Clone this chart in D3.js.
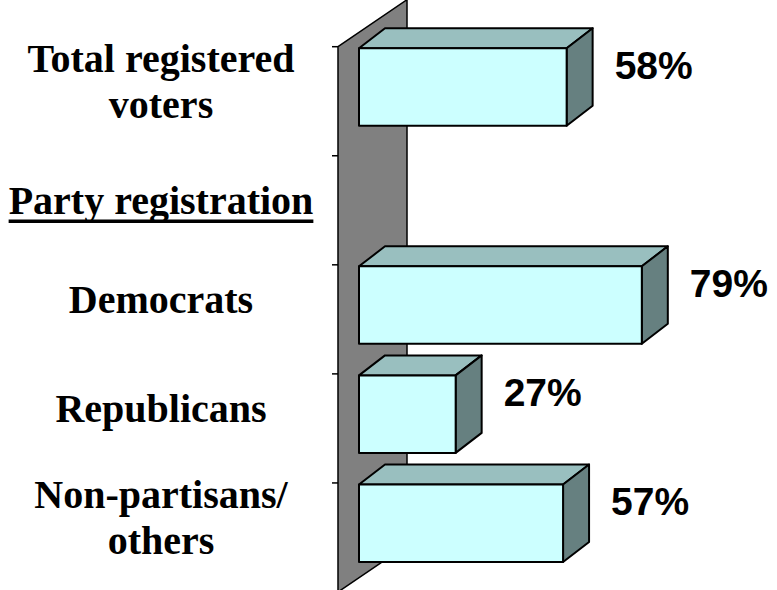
<!DOCTYPE html>
<html>
<head>
<meta charset="utf-8">
<script src="https://cdn.jsdelivr.net/npm/d3@7"></script>
<style>
  body { margin: 0; background: #fff; }
  svg { display: block; }
</style>
</head>
<body>
<div id="chart"></div>
<script>
// chart data
var categories = ['Total registered voters', 'Party registration', 'Democrats', 'Republicans', 'Non-partisans/ others'];
var categoryLines = [['Total registered', 'voters'], ['Party registration'], ['Democrats'], ['Republicans'], ['Non-partisans/', 'others']];
var values = [58, null, 79, 27, 57];
var valueLabels = ['58%', '', '79%', '27%', '57%'];

var width = 777, height = 590;
var depth = {x: 26, y: 20};   // 3d offset of the bars
var wallDepth = {x: 69, y: 47};

var svg = d3.select('#chart').append('svg')
    .attr('width', width)
    .attr('height', height);

var yScale = d3.scaleBand().domain(categories).range([46.7, 592]).paddingInner(0);
var xScale = d3.scaleLinear().domain([0, 100]).range([359, 717]);

// grey side wall
var wx = xScale(0) - 21,
    wTop = yScale.range()[0],
    wBot = yScale.range()[1];
svg.append('polygon')
    .attr('points', [[wx, wTop], [wx + wallDepth.x, wTop - wallDepth.y],
                     [wx + wallDepth.x, wBot - wallDepth.y], [wx, wBot]].join(' '))
    .attr('fill', '#808080')
    .attr('stroke', '#000')
    .attr('stroke-width', 1.5);

// ticks between categories
svg.selectAll('.tick')
    .data(categories)
  .enter().append('line')
    .attr('x1', wx - 6).attr('x2', wx)
    .attr('y1', function(d) { return yScale(d); })
    .attr('y2', function(d) { return yScale(d); })
    .attr('stroke', '#000')
    .attr('stroke-width', 1.5);

// bars
var bars = categories.map(function(c, i) { return {cat: c, value: values[i], label: valueLabels[i]}; })
    .filter(function(d) { return d.value != null; });

var g = svg.selectAll('.bar').data(bars).enter().append('g').attr('class', 'bar');

function face(d, which) {
  var x0 = xScale(0), x1 = xScale(d.value),
      y0 = yScale(d.cat) + 1.5, y1 = y0 + 77.5;
  if (which === 'top') return [[x0, y0], [x0 + depth.x, y0 - depth.y], [x1 + depth.x, y0 - depth.y], [x1, y0]];
  if (which === 'side') return [[x1, y0], [x1 + depth.x, y0 - depth.y], [x1 + depth.x, y1 - depth.y], [x1, y1]];
  return [[x0, y0], [x1, y0], [x1, y1], [x0, y1]];
}

[['top', '#99bfbf'], ['side', '#668080'], ['front', '#ccffff']].forEach(function(f) {
  g.append('polygon')
      .attr('points', function(d) { return face(d, f[0]).join(' '); })
      .attr('fill', f[1])
      .attr('stroke', '#000')
      .attr('stroke-width', 2)
      .attr('stroke-linejoin', 'round');
});

g.append('text')
    .attr('x', function(d) { return xScale(d.value) + depth.x + 22; })
    .attr('y', function(d) { return yScale(d.cat) + 32; })
    .attr('font-family', '"Liberation Sans", Arial, sans-serif')
    .attr('font-weight', 'bold')
    .attr('font-size', 39)
    .text(function(d) { return d.label; });

// category labels
var lineH = 46;
var labels = svg.selectAll('.cat')
    .data(categories)
  .enter().append('text')
    .attr('class', 'cat')
    .attr('text-anchor', 'middle')
    .attr('font-family', '"Liberation Serif", "Times New Roman", serif')
    .attr('font-weight', 'bold')
    .attr('font-size', 40);

labels.each(function(c, i) {
  var lines = categoryLines[i];
  var mid = yScale(c) + yScale.bandwidth() / 2 - 6.5 + (values[i] == null ? 10 : 0);
  var t = d3.select(this);
  lines.forEach(function(l, j) {
    t.append('tspan')
        .attr('x', 161)
        .attr('y', mid + (j - (lines.length - 1) / 2) * lineH)
        .text(l);
  });
  // the group header is underlined
  if (values[i] == null) {
    var w = this.getComputedTextLength();
    svg.append('line')
        .attr('x1', 161 - w / 2).attr('x2', 161 + w / 2)
        .attr('y1', mid + 7.5).attr('y2', mid + 7.5)
        .attr('stroke', '#000')
        .attr('stroke-width', 3.5);
  }
});
</script>
</body>
</html>
